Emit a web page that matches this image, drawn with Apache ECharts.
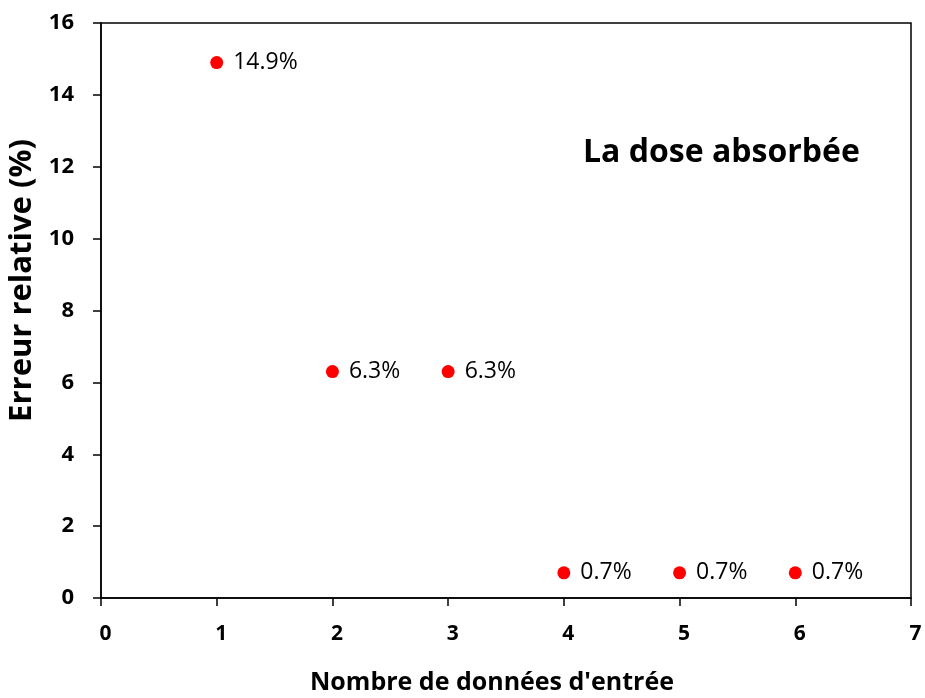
<!DOCTYPE html>
<html>
<head>
<meta charset="utf-8">
<script src="https://cdn.jsdelivr.net/npm/echarts@6/dist/echarts.min.js"></script>
<style>
  html, body { margin: 0; padding: 0; background: #fff; }
  #chart { width: 925px; height: 698px; }
</style>
</head>
<body>
<div id="chart"></div>
<script>
// Number of input data used
const inputCounts = [1, 2, 3, 4, 5, 6];
// Relative error (%) of the absorbed dose
const relativeErrors = [14.9, 6.3, 6.3, 0.7, 0.7, 0.7];
const chartTitle = 'La dose absorbée';
const xAxisName = "Nombre de données d'entrée";
const yAxisName = 'Erreur relative (%)';

const FONT = '"Open Sans", Lato, sans-serif';
const points = inputCounts.map((x, i) => [x, relativeErrors[i]]);

const chart = echarts.init(document.getElementById('chart'), null, { renderer: 'canvas' });
chart.setOption({
  backgroundColor: '#ffffff',
  animation: false,
  grid: {
    left: 101, top: 23, right: 14, bottom: 100,
    outerBoundsMode: 'none', containLabel: false,
    show: true, borderColor: '#000', borderWidth: 1.5
  },
  graphic: [{
    type: 'text',
    left: 583,
    top: 137,
    style: { text: chartTitle, font: 'bold 32px ' + FONT, fill: '#000' }
  }],
  xAxis: {
    type: 'value',
    min: 0, max: 7, interval: 1,
    name: xAxisName,
    nameLocation: 'middle',
    nameGap: 72,
    nameTextStyle: { fontFamily: FONT, fontWeight: 'bold', fontSize: 25, color: '#000', padding: [0, 28, 0, 0] },
    axisLine: { show: true, lineStyle: { color: '#000', width: 1.5 } },
    axisTick: { show: true, inside: false, length: 8, lineStyle: { color: '#000', width: 1.5 } },
    axisLabel: { fontFamily: FONT, fontWeight: 'bold', fontSize: 21, color: '#000', margin: 26, padding: [0, 0, 0, 9] },
    splitLine: { show: false }
  },
  yAxis: {
    type: 'value',
    min: 0, max: 16, interval: 2,
    name: yAxisName,
    nameLocation: 'middle',
    nameGap: 60,
    nameTextStyle: { fontFamily: FONT, fontWeight: 'bold', fontSize: 31, color: '#000', padding: [0, 0, 0, 60] },
    axisLine: { show: true, lineStyle: { color: '#000', width: 1.5 } },
    axisTick: { show: true, inside: false, length: 8, lineStyle: { color: '#000', width: 1.5 } },
    axisLabel: { fontFamily: FONT, fontWeight: 'bold', fontSize: 22, color: '#000', margin: 27 },
    splitLine: { show: false }
  },
  series: [{
    type: 'scatter',
    data: points,
    symbol: 'circle',
    symbolSize: 13,
    itemStyle: { color: '#ff0000', opacity: 1 },
    label: {
      show: true,
      position: 'right',
      distance: 10,
      formatter: p => p.value[1] + '%',
      fontFamily: FONT,
      fontSize: 23,
      color: '#000'
    }
  }]
});
</script>
</body>
</html>
